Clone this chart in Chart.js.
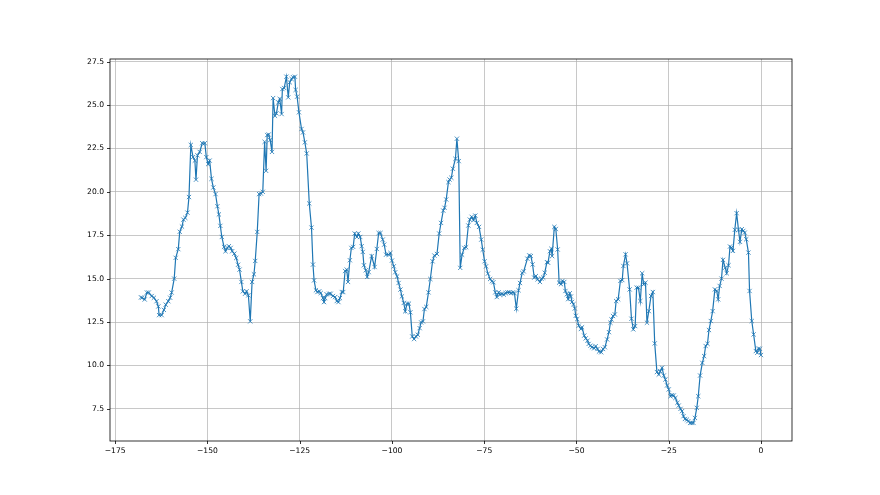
<!DOCTYPE html>
<html>
<head>
<meta charset="utf-8">
<script src="https://cdn.jsdelivr.net/npm/chart.js@4.4.0/dist/chart.umd.min.js"></script>
<style>
    body { margin: 0; background: #fff; }
    canvas { display: block; }
</style>
</head>
<body>
<canvas id="myChart" width="880" height="495"></canvas>
<script>
// datos

const xValues = [
    -168.0, -167.7, -167.0, -166.4, -165.9, -165.1, -164.5, -163.8, -163.3, -163.1,
    -162.4, -161.8, -161.3, -160.6, -160.1, -159.7, -159.0, -158.6, -157.9, -157.5,
    -156.9, -156.5, -156.0, -155.4, -155.0, -154.5, -153.9, -153.4, -153.1, -152.7,
    -152.1, -151.4, -150.7, -150.3, -149.8, -149.4, -148.9, -148.4,
    -147.8, -147.3, -146.9, -146.5, -146.1, -145.5, -145.1, -144.6, -144.2, -143.7,
    -143.3, -142.7, -142.2, -141.7, -141.3, -140.8, -140.4, -139.8, -139.4, -138.9,
    -138.4, -137.9, -137.4, -137.05, -136.5, -136.0, -135.5, -135.0, -134.5, -134.1,
    -133.8, -133.4, -133.0, -132.5,
    -132.2, -131.7, -131.3, -130.8, -130.4, -129.9, -129.7, -129.2, -128.6, -128.1,
    -127.7, -127.2, -126.8, -126.3, -126.1, -125.7, -125.2, -124.5, -124.1,
    -123.6, -123.1, -122.4, -121.8, -121.4, -121.1, -120.6, -120.2, -119.7, -119.3,
    -118.7, -118.4, -118.1, -117.7, -117.0, -116.6, -116.0, -115.4, -114.95, -114.5,
    -114.1, -113.6, -113.2, -112.7, -112.25, -111.9, -111.4, -111.0, -110.5, -110.1,
    -109.5, -109.1, -108.6, -108.2, -107.9, -107.6, -107.1, -106.7, -106.3, -105.5,
    -104.7, -104.1, -103.6, -103.1, -102.5, -102.1, -101.6, -100.9, -100.4, -100.0,
    -99.5, -99.1, -98.6, -98.2, -97.7, -97.3, -96.8, -96.4, -95.9, -95.4,
    -95.0, -94.5, -94.0, -93.5, -93.0, -92.5, -92.1, -91.6, -91.2, -90.7,
    -90.1, -89.6, -89.0, -88.5, -87.8, -87.2, -86.7, -86.1, -85.75, -85.3,
    -84.7, -84.4, -83.9, -83.5, -82.8, -82.4, -81.9, -81.5, -81.0, -80.4,
    -79.9, -79.3, -78.9, -78.4, -77.9, -77.4, -77.0, -76.4, -75.8, -75.4,
    -74.9, -74.5, -74.0, -73.4, -72.9, -72.5, -72.0, -71.6, -71.1, -70.7,
    -70.2, -69.7, -69.2, -68.7, -68.2, -67.7, -67.2, -66.8, -66.3, -65.7,
    -65.3, -64.7, -64.3,
    -63.3, -62.8, -62.35, -61.9, -61.45, -61.0, -60.55, -59.9, -59.5, -59.0,
    -58.6, -58.0, -57.7, -57.2, -56.8, -56.6, -56.0, -55.6, -55.1, -54.7,
    -54.2, -53.8, -53.3, -53.0, -52.6, -52.25, -51.8, -51.5, -51.2, -50.8,
    -50.45, -50.2, -49.8, -49.4, -48.8, -48.5, -47.9, -47.5, -47.0, -46.7,
    -46.2, -45.8, -45.2, -44.8, -44.3, -43.9, -43.3, -42.8, -42.3,
    -41.7, -41.2, -40.8, -40.5, -40.1, -39.6, -39.25, -38.7, -38.1, -37.6,
    -37.3, -36.7, -36.3, -35.6, -35.1, -34.6, -34.1, -33.7, -33.2, -32.7,
    -32.2, -31.8, -31.3, -30.9, -30.4, -29.8, -29.3, -28.8, -28.2, -27.7,
    -27.3, -26.8, -26.35, -25.9, -25.45, -25.0, -24.55, -24.1, -23.65, -23.2,
    -22.65, -22.3, -21.8, -21.4,
    -21.0, -20.6, -20.1, -19.7, -19.2, -18.8, -18.3, -17.9, -17.4, -17.0, -16.5,
    -15.9, -15.4, -15.0, -14.5, -14.1, -13.6, -13.1, -12.5, -12.0, -11.6,
    -11.2, -10.7, -10.3, -9.7, -9.3, -8.8, -8.4, -8.0, -7.6, -7.1,
    -6.6, -6.1, -5.7, -5.2, -4.8, -4.4, -4.0, -3.4, -3.1, -2.5,
    -2.0, -1.4, -1.0, -0.7, -0.3, 0.0
];

const yValues = [
    13.92, 13.9, 13.8, 14.2, 14.2, 14.0, 13.9, 13.7, 13.4, 12.9,
    12.9, 13.2, 13.5, 13.7, 13.9, 14.2, 15.0, 16.2, 16.7, 17.7,
    18.0, 18.4, 18.5, 18.8, 19.7, 22.7, 22.0, 21.8, 20.7, 22.1,
    22.3, 22.8, 22.8, 22.0, 21.6, 21.8, 20.75, 20.25,
    19.87, 19.17, 18.7, 18.04, 17.4, 16.83, 16.58, 16.77, 16.87, 16.77,
    16.58, 16.44, 16.19, 15.8, 15.52, 14.81, 14.27, 14.13, 14.27, 14.04,
    12.54, 14.81, 15.25, 16.02, 17.69, 19.87, 19.9, 20.0, 22.88, 21.21,
    23.27, 23.3, 22.98, 22.3,
    25.4, 24.38, 24.52, 25.15, 25.35, 24.48, 25.92, 25.98, 26.63, 25.44,
    26.31, 26.5, 26.6, 26.63, 25.87, 25.48, 24.58, 23.62, 23.42,
    22.85, 22.21, 19.33, 17.94, 15.81, 14.9, 14.33, 14.23, 14.27, 14.17,
    13.88, 13.65, 13.88, 14.1, 14.13, 14.13, 14.0, 13.94, 13.71, 13.65,
    13.88, 14.23, 14.23, 15.44, 15.52, 14.81, 16.06, 16.77, 16.83, 17.6,
    17.4, 17.6, 17.4, 16.87, 16.54, 15.77, 15.48, 15.1, 15.38, 16.3,
    15.67, 16.71, 17.63, 17.63, 17.25, 16.96, 16.38, 16.38, 16.48, 16.04,
    15.71, 15.37, 15.13, 14.75, 14.37, 13.98, 13.6, 13.12, 13.56, 13.56,
    13.06, 11.67, 11.52, 11.67, 11.77, 12.15, 12.48, 12.54, 13.25, 13.37,
    14.21, 14.98, 16.0, 16.33, 16.42, 17.6, 18.21, 18.92, 19.08, 19.56,
    20.56, 20.71, 20.81, 21.33, 21.9, 23.06, 21.77, 15.62, 16.38, 16.77,
    16.81, 18.06, 18.4, 18.56, 18.37, 18.63, 18.21, 17.98, 17.25, 16.67,
    16.0, 15.71, 15.29, 14.98, 14.85, 14.79, 14.21, 13.94, 14.21, 14.08,
    14.13, 14.08, 14.17, 14.21, 14.21, 14.17, 14.21, 14.17, 13.27, 14.33,
    14.75, 15.33, 15.42,
    16.15, 16.34, 16.3, 15.82, 15.06, 15.15, 14.96, 14.81, 15.0, 15.06,
    15.34, 15.95, 15.92, 16.58, 16.72, 16.3, 17.98, 17.86, 16.68, 14.77,
    14.68, 14.87, 14.81, 14.29, 14.1, 13.82, 14.16, 13.97, 13.66, 13.53,
    13.28, 12.86, 12.67, 12.29, 12.1, 12.2, 11.72, 11.56, 11.43, 11.24,
    11.14, 11.05, 10.99, 11.11, 10.95, 10.8, 10.76, 10.95, 11.05,
    11.5, 11.92, 12.46, 12.65, 12.85, 12.94, 13.71, 13.81, 14.87, 14.92,
    15.73, 16.4, 15.88, 14.38, 12.69, 12.08, 12.27, 14.48, 14.48, 13.71,
    15.31, 14.67, 14.77, 12.46, 13.13, 14.0, 14.23, 11.27, 9.62, 9.48,
    9.67, 9.87, 9.42, 9.19, 8.85, 8.62, 8.23, 8.29, 8.27, 8.13,
    7.85, 7.69, 7.5, 7.37,
    7.08, 6.92, 6.88, 6.79, 6.69, 6.69, 6.69, 6.98, 7.56, 8.23, 9.42,
    10.15, 10.54, 11.12, 11.25, 12.04, 12.56, 13.13, 14.38, 14.29, 13.81,
    14.58, 15.0, 16.08, 15.63, 15.31, 15.77, 16.85, 16.79, 16.6, 17.81,
    18.77, 17.81, 17.12, 17.85, 17.75, 17.65, 17.27, 16.5, 14.29, 12.56,
    11.79, 10.83, 10.73, 10.96, 10.96, 10.6
];

const xTicks = [-175, -150, -125, -100, -75, -50, -25, 0];
const yTicks = [7.5, 10.0, 12.5, 15.0, 17.5, 20.0, 22.5, 25.0, 27.5];

// marco y marcas de los ejes (estilo matplotlib)
const marco = {
    id: 'marco',
    afterDraw(chart) {
        const { ctx, chartArea: a, scales } = chart;
        ctx.save();
        ctx.strokeStyle = '#000';
        ctx.lineWidth = 0.8;
        ctx.strokeRect(a.left, a.top, a.right - a.left, a.bottom - a.top);
        ctx.beginPath();
        xTicks.forEach((v) => {
            const px = Math.round(scales.x.getPixelForValue(v)) + 0.5;
            ctx.moveTo(px, a.bottom);
            ctx.lineTo(px, a.bottom + 3);
        });
        yTicks.forEach((v) => {
            const py = Math.round(scales.y.getPixelForValue(v)) + 0.5;
            ctx.moveTo(a.left, py);
            ctx.lineTo(a.left - 3, py);
        });
        ctx.stroke();
        ctx.restore();
    }
};

const fuente = { family: 'DejaVu Sans', size: 7.6 };

const ctx = document.getElementById('myChart').getContext('2d');
new Chart(ctx, {
    type: 'line',
    data: {
        datasets: [{
            data: xValues.map((x, i) => ({ x: x, y: yValues[i] })),
            borderColor: '#1f77b4',
            borderWidth: 1.2,
            pointStyle: 'crossRot',
            pointRadius: 3,
            pointBorderWidth: 0.8,
            pointBorderColor: '#1f77b4',
            pointBackgroundColor: '#1f77b4',
            fill: false,
            tension: 0
        }]
    },
    options: {
        responsive: false,
        animation: false,
        layout: {
            padding: { top: 59, right: 88, left: 0, bottom: 0 }
        },
        plugins: {
            legend: { display: false },
            tooltip: { enabled: false }
        },
        scales: {
            x: {
                type: 'linear',
                min: -176.4,
                max: 8.4,
                afterBuildTicks: (s) => { s.ticks = xTicks.map((v) => ({ value: v })); },
                afterFit: (s) => { s.height = 54; },
                border: { display: false },
                grid: { color: '#b0b0b0', lineWidth: 0.7, drawTicks: false },
                ticks: {
                    padding: 5,
                    color: '#000',
                    font: fuente,
                    maxRotation: 0,
                    autoSkip: false,
                    callback: (v) => (v < 0 ? '\u2212' + Math.abs(v) : String(v))
                }
            },
            y: {
                type: 'linear',
                min: 5.65,
                max: 27.65,
                afterBuildTicks: (s) => { s.ticks = yTicks.map((v) => ({ value: v })); },
                afterFit: (s) => { s.width = 110; },
                border: { display: false },
                grid: { color: '#b0b0b0', lineWidth: 0.7, drawTicks: false },
                ticks: {
                    padding: 6,
                    color: '#000',
                    font: fuente,
                    autoSkip: false,
                    callback: (v) => v.toFixed(1)
                }
            }
        }
    },
    plugins: [marco]
});
</script>
</body>
</html>
